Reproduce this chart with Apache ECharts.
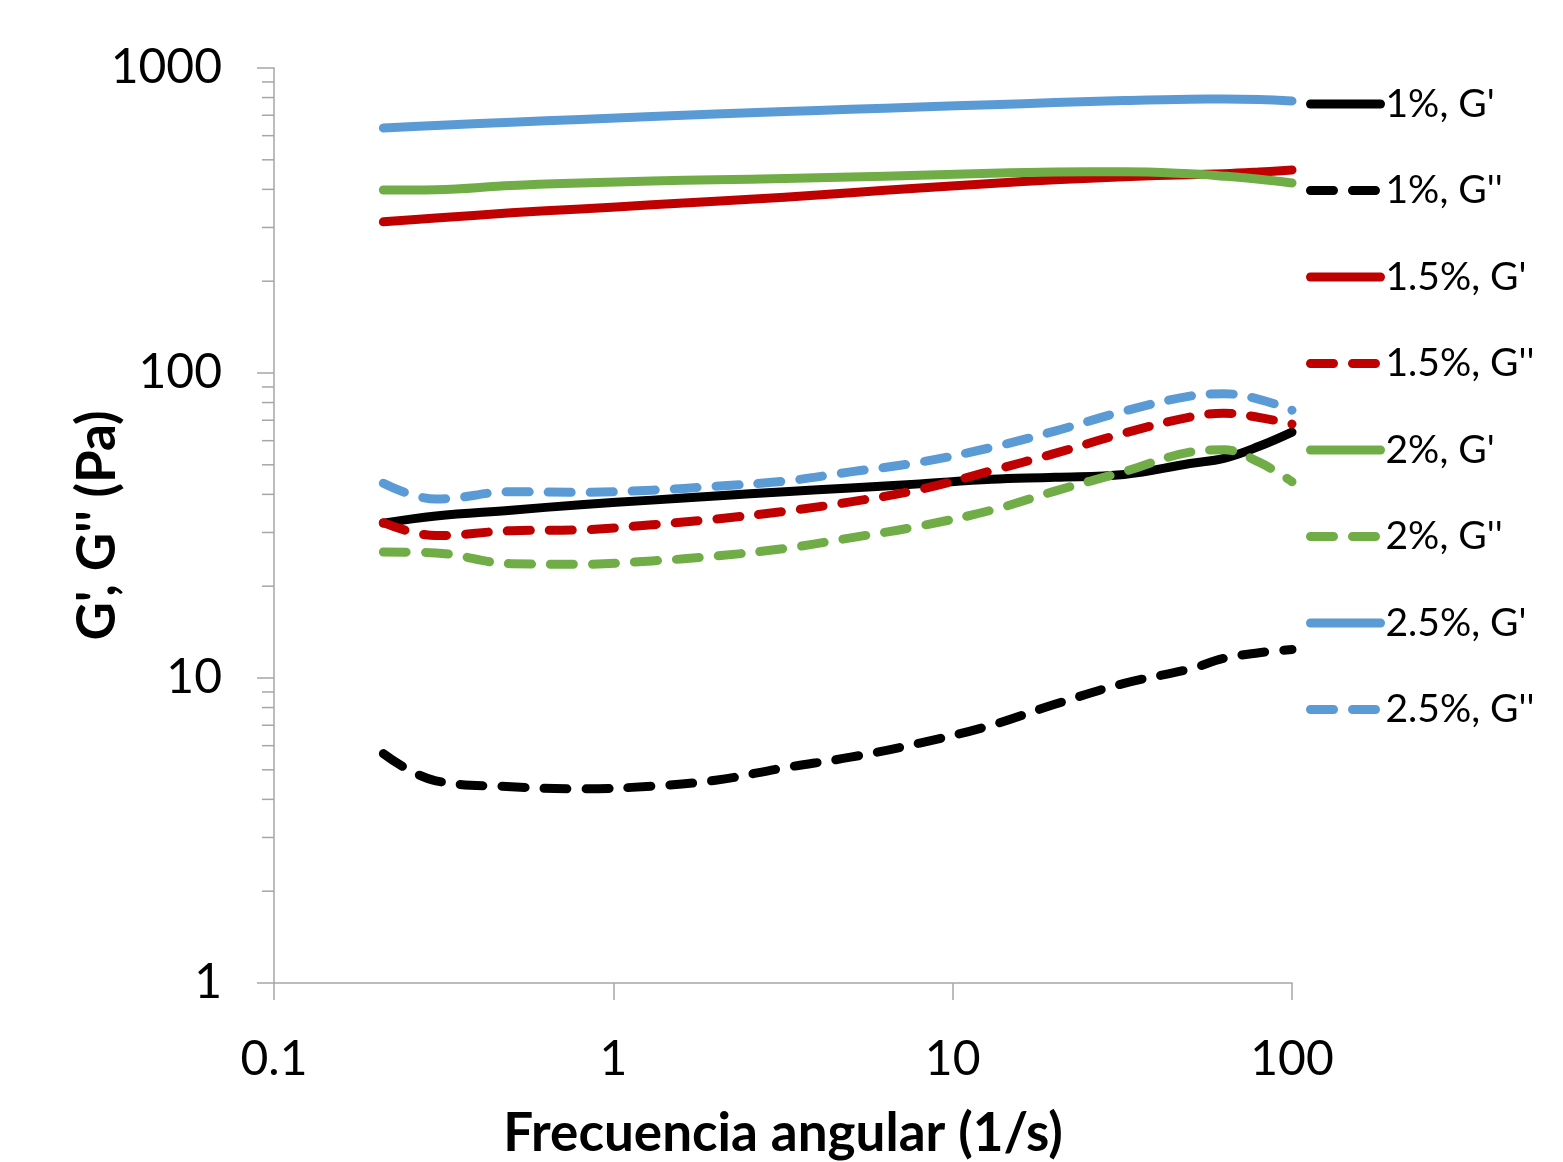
<!DOCTYPE html>
<html>
<head>
<meta charset="utf-8">
<script src="https://cdn.jsdelivr.net/npm/echarts@6/dist/echarts.min.js"></script>
<style>
html,body{margin:0;padding:0;background:#fff;}
#chart{width:1563px;height:1162px;}
</style>
</head>
<body>
<div id="chart"></div>
<script>
// Angular frequency (1/s)
const freq = [0.21, 0.3, 0.5, 0.8, 1.3, 2, 3.2, 5, 8, 13, 20, 32, 50, 63, 80, 100];

// Moduli (Pa)
const g1_Gp   = [32.2, 34.0, 35.5, 37.0, 38.3, 39.5, 40.8, 42.0, 43.3, 44.8, 45.5, 46.5, 50.5, 52.5, 57.5, 64.0];
const g1_Gpp  = [5.65, 4.6, 4.4, 4.33, 4.42, 4.62, 5.08, 5.5, 6.12, 7.0, 8.2, 9.6, 10.7, 11.6, 12.1, 12.4];
const g15_Gp  = [313, 322, 335, 345, 356, 366, 377, 390, 404, 418, 430, 440, 447, 450, 456, 463];
const g15_Gpp = [32.3, 29.3, 30.4, 30.6, 31.8, 33.2, 35.2, 37.8, 41.5, 47.8, 54.5, 63.5, 71.7, 73.8, 71.5, 68.0];
const g2_Gp   = [398, 399, 412, 420, 426, 430, 434, 439, 445, 452, 456, 457, 450, 442, 432, 420];
const g2_Gpp  = [25.9, 25.7, 23.7, 23.6, 24.2, 25.1, 26.6, 28.8, 31.5, 35.5, 41.0, 47.5, 55.0, 56.0, 51.0, 44.0];
const g25_Gp  = [636, 648, 664, 678, 693, 706, 720, 732, 745, 758, 770, 782, 790, 791, 788, 780];
const g25_Gpp = [43.5, 38.6, 40.8, 40.6, 41.3, 42.5, 44.2, 47.4, 51.0, 57.0, 64.5, 75.0, 84.0, 85.5, 82.0, 75.5];

const seriesNames = ["1%, G'", "1%, G''", "1.5%, G'", "1.5%, G''", "2%, G'", "2%, G''", "2.5%, G'", "2.5%, G''"];
const seriesValues = [g1_Gp, g1_Gpp, g15_Gp, g15_Gpp, g2_Gp, g2_Gpp, g25_Gp, g25_Gpp];
const seriesColors = ['#000000', '#000000', '#C00000', '#C00000', '#70AD47', '#70AD47', '#5B9BD5', '#5B9BD5'];
const seriesDashed = [false, true, false, true, false, true, false, true];

// minor tick values on the y axis
const yMinorTicks = [2,3,4,5,6,7,8,9,20,30,40,50,60,70,80,90,200,300,400,500,600,700,800,900];

const FONT = 'Lato, "Open Sans", sans-serif';
const AXIS_COLOR = '#a6a6a6';

const chart = echarts.init(document.getElementById('chart'), null, {renderer: 'canvas'});

const series = seriesNames.map((name, i) => ({
  name: name,
  type: 'line',
  data: freq.map((f, j) => [f, seriesValues[i][j]]),
  showSymbol: false,
  symbol: 'none',
  smooth: 0.4,
  z: 2 + i,
  lineStyle: {
    color: seriesColors[i],
    width: 9,
    type: seriesDashed[i] ? [23, 19] : 'solid',
    cap: 'round',
    join: 'round'
  },
  itemStyle: {color: seriesColors[i]},
  emphasis: {disabled: true}
}));

series.push({
  name: 'minorTicks',
  type: 'custom',
  silent: true,
  clip: false,
  data: yMinorTicks.map(v => [0.1, v]),
  renderItem: function (params, api) {
    const p = api.coord([0.1, api.value(1)]);
    return {
      type: 'line',
      shape: {x1: p[0] - 12, y1: p[1], x2: p[0], y2: p[1]},
      style: {stroke: AXIS_COLOR, lineWidth: 1.5}
    };
  }
});

chart.setOption({
  animation: false,
  backgroundColor: '#ffffff',
  grid: {left: 274, right: 271, top: 68, bottom: 179, containLabel: false, outerBoundsMode: 'none'},
  legend: {
    orient: 'vertical',
    left: 1301,
    top: 79,
    data: seriesNames,
    itemWidth: 70,
    itemHeight: 40,
    itemGap: 46.5,
    itemStyle: {opacity: 0},
    lineStyle: {width: 'inherit', type: 'inherit', cap: 'round'},
    textStyle: {fontFamily: FONT, fontSize: 39, color: '#000', lineHeight: 40},
    selectedMode: false
  },
  xAxis: {
    type: 'log',
    logBase: 10,
    min: 0.1,
    max: 100,
    splitLine: {show: false},
    axisLine: {show: true, lineStyle: {color: AXIS_COLOR, width: 1.5}},
    axisTick: {show: true, length: 17, lineStyle: {color: AXIS_COLOR, width: 1.5}},
    minorTick: {show: false},
    axisLabel: {fontFamily: FONT, fontSize: 48, color: '#000', margin: 53, formatter: v => String(v)},
    name: 'Frecuencia angular (1/s)',
    nameLocation: 'middle',
    nameGap: 124,
    nameMoveOverlap: false,
    nameTextStyle: {fontFamily: FONT, fontSize: 53, fontWeight: 'bold', color: '#000'}
  },
  yAxis: {
    type: 'log',
    logBase: 10,
    min: 1,
    max: 1000,
    splitLine: {show: false},
    axisLine: {show: true, lineStyle: {color: AXIS_COLOR, width: 1.5}},
    axisTick: {show: true, length: 17, lineStyle: {color: AXIS_COLOR, width: 1.5}},
    minorTick: {show: false},
    axisLabel: {fontFamily: FONT, fontSize: 48, color: '#000', margin: 52, formatter: v => String(v)},
    name: "G', G'' (Pa)",
    nameLocation: 'middle',
    nameGap: 150,
    nameMoveOverlap: false,
    nameTextStyle: {fontFamily: FONT, fontSize: 53, fontWeight: 'bold', color: '#000'}
  },
  series: series
});
</script>
</body>
</html>
